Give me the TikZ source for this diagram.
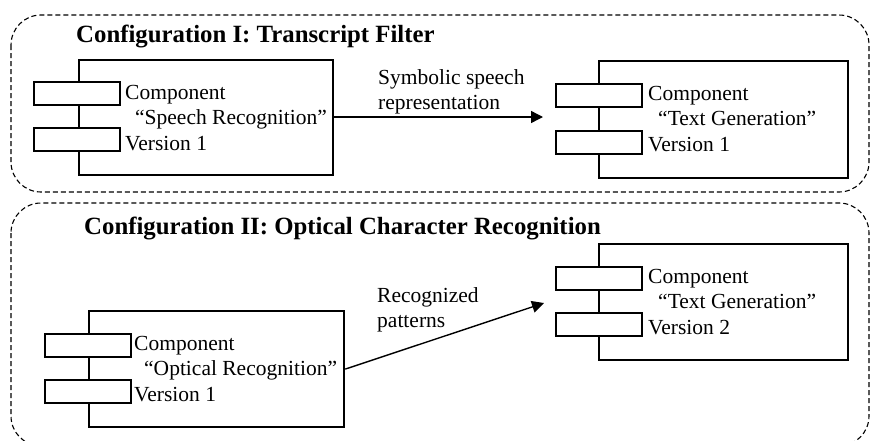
\documentclass[tikz,border=0pt]{standalone}
\usepackage{fontspec}
\setmainfont{Liberation Serif}
\usetikzlibrary{arrows.meta}
\begin{document}
\begin{tikzpicture}[x=1pt,y=-1pt,
  frame/.style={draw, dash pattern=on 5pt off 3pt, rounded corners=30pt, line width=1.1pt},
  body/.style={draw, line width=2.2pt, anchor=north west, inner sep=0pt, minimum width=#1},
  port/.style={draw, fill=white, line width=2.2pt, anchor=north west, inner sep=0pt, minimum width=86pt, minimum height=23pt},
  lbl/.style={anchor=west, inner sep=0pt, align=left, font=\fontsize{21.5}{25.5}\selectfont},
  ttl/.style={anchor=west, inner sep=0pt, font=\fontsize{24.8}{28}\selectfont\bfseries},
  arr/.style={-{Triangle[length=12pt,width=12pt]}, line width=1.4pt}
]
\clip (0,0) rectangle (870,440);
% frames
\draw[frame] (11,15) rectangle (869,192);
\draw[frame] (11,203) rectangle (869,446);
\node[ttl] (t1) at (76,37) {Configuration I: Transcript Filter};
\node[ttl] (t2) at (84,228) {Configuration II: Optical Character Recognition};

% Config I component 1
\node[body=254pt, minimum height=115pt] (c1) at (78,59) {};
\node[port] (c1a) at (33,81) {};
\node[port] (c1b) at (33,127) {};
\node[lbl] (c1t) at (125,118) {Component\\\hspace*{10pt}“Speech Recognition”\\Version 1};

% Config I component 2
\node[body=249pt, minimum height=117pt] (c2) at (598,60) {};
\node[port] (c2a) at (555,83) {};
\node[port] (c2b) at (555,130) {};
\node[lbl] (c2t) at (648,119) {Component\\\hspace*{10pt}“Text Generation”\\Version 1};

\coordinate (e1) at (543,117);
\draw[arr] (c1.east |- e1) -- (e1);
\node[lbl] (a1) at (378,92) {Symbolic speech\\representation};

% Config II component 1
\node[body=255pt, minimum height=116pt] (c3) at (88,310) {};
\node[port] (c3a) at (44,333) {};
\node[port] (c3b) at (44,379) {};
\node[lbl] (c3t) at (134,369) {Component\\\hspace*{10pt}“Optical Recognition”\\Version 1};

% Config II component 2
\node[body=249pt, minimum height=116pt] (c4) at (598,243) {};
\node[port] (c4a) at (555,266) {};
\node[port] (c4b) at (555,312) {};
\node[lbl] (c4t) at (648,302) {Component\\\hspace*{10pt}“Text Generation”\\Version 2};

\coordinate (e2) at (544,303);
\draw[arr] (c3.east) -- (e2);
\node[lbl] (a2) at (377,310) {Recognized\\patterns};
\end{tikzpicture}
\end{document}
